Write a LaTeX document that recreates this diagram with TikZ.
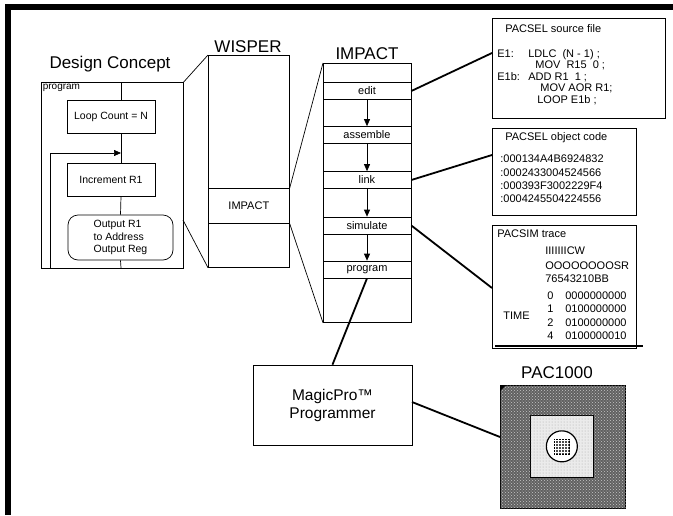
\documentclass[tikz,border=0pt]{standalone}
\usepackage{fontspec}
\setmainfont{Liberation Sans}
\usetikzlibrary{arrows.meta,positioning,patterns}

\begin{document}
\begin{tikzpicture}[x=1pt,y=-1pt,line width=0.7pt,>={Triangle[length=7pt,width=6pt]},
    big/.style={font=\fontsize{17}{20}\selectfont},
    txt/.style={font=\fontsize{10.5}{12.5}\selectfont},
    small/.style={font=\fontsize{11}{13}\selectfont},
    frame/.style={draw,anchor=north west,inner sep=0pt},
    flowbox/.style={draw,txt,minimum width=88pt,minimum height=33pt,inner sep=2pt},
    row/.style={draw,small,minimum width=88pt,minimum height=17pt,inner sep=0pt},
    line/.style={anchor=base west,inner sep=0pt,small},
    wire/.style={line width=1.8pt}]

    \useasboundingbox (0,0) rectangle (673,515);
    \draw[line width=6pt] (7.5,515) -- (7.5,6.5) -- (673,6.5);

    % design concept
    \node[big] (dctitle) at (110,64) {Design Concept};
    \node[frame,minimum width=142pt,minimum height=186pt] (prog) at (41,82) {};
    \node[anchor=north west,inner sep=1.5pt,font=\fontsize{10}{12}\selectfont] (proglabel) at (prog.north west) {program};
    \node[flowbox] (loop) at (111,116.5) {Loop Count = N};
    \node[flowbox] (incr) at (111,180) {Increment R1};
    \node[draw,txt,minimum width=105pt,minimum height=45pt,rounded corners=10pt,align=left] (out) at (120.5,237.5) {Output R1\\to Address\\Output Reg};
    \coordinate (ptop) at (121,82);
    \coordinate (lpin) at (121,100);
    \coordinate (lpout) at (121,133);
    \coordinate (icin) at (121,163.5);
    \coordinate (icout) at (121,196.5);
    \coordinate (pbot) at (121,268);
    \coordinate (lbot) at (50,268);
    \coordinate (lturn) at (50,153);
    \coordinate (ljoin) at (121,153);
    \draw (ptop) -- (lpin);
    \draw (lpout) -- (icin);
    \draw (icout) -- (out.north);
    \draw (out.south) -- (pbot);
    \draw[->] (lbot) -- (lturn) -- (ljoin);

    % wisper
    \node[big] (wtitle) at (248,47) {WISPER};
    \node[frame,minimum width=81pt,minimum height=212pt] (wisper) at (208,55) {};
    \node[frame,small,minimum width=81pt,minimum height=35pt] (wimpact) at (208,188) {};
    \node[small] (wlabel) at (wimpact.center) {IMPACT};
    \coordinate (pside) at (183,220);
    \draw (prog.north east) -- (wisper.north west);
    \draw (pside) -- (wisper.south west);

    % impact stack
    \node[big] (ititle) at (367,54) {IMPACT};
    \node[frame,minimum width=88pt,minimum height=259pt] (impact) at (323,63) {};
    \node[row] (edit) at (367,91) {edit};
    \node[row] (asm) at (367,135) {assemble};
    \node[row] (link) at (367,180) {link};
    \node[row] (sim) at (367,225.5) {simulate};
    \node[row] (prg) at (367,269.5) {program};
    \draw (wimpact.north east) -- (impact.north west);
    \draw (wimpact.south east) -- (impact.south west);
    \path[->]
    (edit) edge (asm)
    (asm) edge (link)
    (link) edge (sim)
    (sim) edge (prg);

    % source file
    \node[frame,minimum width=173pt,minimum height=100pt] (src) at (492,18) {};
    \node[line] (srctitle) at (505,32) {PACSEL source file};
    \node[line] (s1) at (497,57) {E1:};
    \node[line] (s2) at (528,57) {LDLC \ (N - 1) ;};
    \node[line] (s3) at (535,68.5) {MOV \ R15 \ 0 ;};
    \node[line] (s4) at (497,80) {E1b:};
    \node[line] (s5) at (528,80) {ADD R1 \ 1 ;};
    \node[line] (s6) at (540,91.5) {MOV AOR R1;};
    \node[line] (s7) at (537,103) {LOOP E1b ;};

    % object code
    \node[frame,minimum width=144pt,minimum height=87pt] (obj) at (492,128) {};
    \node[line] (objtitle) at (505,140) {PACSEL object code};
    \node[line] (o1) at (500,162) {:000134A4B6924832};
    \node[line] (o2) at (500,176) {:0002433004524566};
    \node[line] (o3) at (500,189) {:000393F3002229F4};
    \node[line] (o4) at (500,202) {:0004245504224556};

    % simulator trace
    \node[frame,minimum width=144pt,minimum height=123pt] (trace) at (492,225) {};
    \node[line] (trtitle) at (497,237) {PACSIM trace};
    \node[line] (h1) at (545,254) {IIIIIIICW};
    \node[line] (h2) at (545,269) {OOOOOOOOSR};
    \node[line] (h3) at (545,282) {76543210BB};
    \node[line] (time) at (503,319) {TIME};
    \foreach \t/\v [count=\i] in {0/0000000000,1/0100000000,2/0100000000,4/0100000010}
      {
        \node[line] (t\i) at (547,286+13.4*\i) {\t};
        \node[line] (v\i) at (565,286+13.4*\i) {\v};
      }
    \coordinate (ulstart) at (495,346);
    \coordinate (ulend) at (643,346);
    \draw[line width=1.4pt] (ulstart) -- (ulend);

    % programmer
    \node[draw,minimum width=159pt,minimum height=80pt,align=center,
      font=\fontsize{15.5}{18}\selectfont] (magic) at (332.5,405) {MagicPro™\\Programmer};

    % chip
    \node[big] (chiptitle) at (557,373) {PAC1000};
    \node[frame,fill=black!62,minimum width=125pt,minimum height=123pt] (chip) at (500,385) {};
    \fill[pattern=crosshatch dots,pattern color=black!22] (chip.north west) rectangle (chip.south east);
    \node[frame,fill=black!8,minimum width=63pt,minimum height=62pt] (die) at (530,415) {};
    \fill[pattern=dots,pattern color=black!35] (die.north west) rectangle (die.south east);
    \node[draw,line width=1.2pt,circle,fill=white,minimum size=31pt] (logo) at (die.center) {};
    \node[draw,fill=black!70,minimum size=15pt,inner sep=0pt] (mark) at (logo.center) {};
    \fill[pattern=grid,pattern color=white] (mark.north west) rectangle (mark.south east);
    \fill (chip.north west) -- ++(6,0) -- ++(-6,6) -- cycle;

    % connectors
    \coordinate (srcin) at (492,53);
    \coordinate (objin) at (492,155);
    \coordinate (trin) at (492,288);
    \coordinate (chipin) at (500,437);
    \coordinate (magout) at (412,402);
    \draw[wire] (edit.east) -- (srcin);
    \draw[wire] (link.east) -- (objin);
    \draw[wire] (sim.east) -- (trin);
    \draw[wire] (prg.south) -- (magic.north);
    \draw[wire] (magout) -- (chipin);
  \end{tikzpicture}
\end{document}
